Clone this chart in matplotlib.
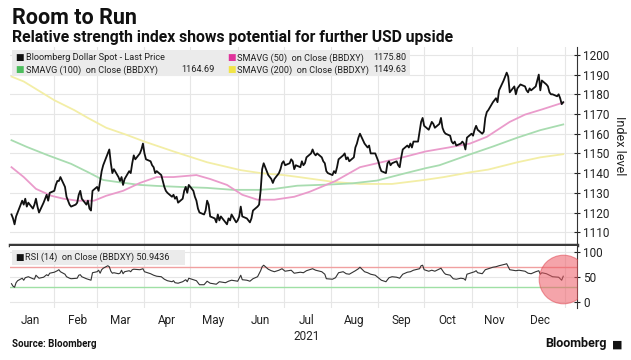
import matplotlib.dates as mdates
import matplotlib.pyplot as plt
import pandas as pd
from matplotlib.patches import Rectangle

plt.rcParams["font.family"] = ["Roboto", "DejaVu Sans"]

# Bloomberg Dollar Spot daily closes, one list per month (business days)
jan_close = [1119, 1117, 1114, 1118, 1120, 1126, 1124, 1127, 1123, 1125,
             1122, 1124, 1127, 1123, 1120, 1125, 1127, 1129, 1126, 1130]
feb_close = [1131, 1134, 1136, 1136, 1138, 1133, 1128, 1126, 1124, 1123,
             1124, 1125, 1129, 1131, 1127, 1124, 1126, 1122, 1121, 1131]
mar_close = [1133, 1131, 1136, 1141, 1144, 1150, 1152, 1145, 1140, 1142,
             1138, 1136, 1138, 1134, 1137, 1141, 1140, 1145, 1149, 1147,
             1150, 1152, 1155]
apr_close = [1150, 1147, 1146, 1144, 1143, 1140, 1141, 1139, 1136, 1133,
             1131, 1130, 1128, 1129, 1127, 1128, 1125, 1127, 1131, 1133,
             1130, 1134]
may_close = [1131, 1128, 1126, 1122, 1120, 1119, 1121, 1126, 1124, 1118,
             1117, 1115, 1119, 1116, 1118, 1115, 1114, 1117, 1116, 1119,
             1115]
jun_close = [1116, 1118, 1123, 1118, 1117, 1116, 1115, 1117, 1121, 1123,
             1124, 1131, 1142, 1145, 1139, 1138, 1137, 1135, 1137, 1140,
             1142, 1145]
jul_close = [1146, 1144, 1145, 1147, 1146, 1142, 1144, 1143, 1146, 1144,
             1145, 1148, 1150, 1152, 1150, 1149, 1150, 1148, 1146, 1145,
             1141, 1140]
aug_close = [1139, 1141, 1140, 1143, 1147, 1149, 1150, 1147, 1148, 1146,
             1148, 1153, 1155, 1158, 1160, 1155, 1154, 1153, 1154, 1150,
             1150, 1148]
sep_close = [1146, 1143, 1141, 1140, 1145, 1146, 1144, 1145, 1146, 1144,
             1143, 1148, 1152, 1154, 1153, 1155, 1153, 1156, 1156, 1161,
             1166, 1168]
oct_close = [1164, 1162, 1164, 1166, 1165, 1163, 1165, 1168, 1163, 1161,
             1160, 1159, 1156, 1155, 1156, 1154, 1155, 1156, 1155, 1152,
             1158]
nov_close = [1160, 1159, 1162, 1164, 1162, 1160, 1161, 1168, 1171, 1172,
             1176, 1177, 1178, 1176, 1182, 1187, 1189, 1191, 1189, 1181,
             1184, 1180]
dec_close = [1183, 1184, 1185, 1184, 1182, 1181, 1183, 1182, 1184, 1187,
             1190, 1182, 1187, 1185, 1184, 1181, 1180, 1180, 1179, 1180,
             1178, 1175, 1176]

# moving averages
sma50_dates = ["2021-01-04", "2021-01-12", "2021-01-20", "2021-01-30", "2021-02-07",
               "2021-02-16", "2021-02-27", "2021-03-07", "2021-03-18", "2021-03-29",
               "2021-04-09", "2021-04-20", "2021-05-05", "2021-05-14", "2021-05-25",
               "2021-06-04", "2021-06-14", "2021-06-25", "2021-07-08", "2021-07-18",
               "2021-08-04", "2021-08-20", "2021-09-03", "2021-09-17", "2021-10-02",
               "2021-10-17", "2021-10-31", "2021-11-11", "2021-11-26", "2021-12-06",
               "2021-12-17", "2021-12-31"]
sma50 = [1143, 1138, 1132, 1128.5, 1127, 1126, 1126, 1128.5, 1131, 1135,
         1138, 1138, 1139, 1137, 1134, 1129, 1126.5, 1126.5, 1128, 1130.5,
         1136, 1143, 1145.5, 1148, 1151, 1153, 1155, 1158.4, 1166, 1169.7,
         1172.3, 1175.8]

sma100_dates = ["2021-01-04", "2021-01-14", "2021-01-28", "2021-02-12", "2021-02-23",
                "2021-03-05", "2021-03-16", "2021-03-29", "2021-04-09", "2021-04-24",
                "2021-05-12", "2021-05-29", "2021-06-15", "2021-06-25", "2021-07-10",
                "2021-07-31", "2021-08-15", "2021-08-31", "2021-09-17", "2021-10-02",
                "2021-10-11", "2021-10-31", "2021-11-15", "2021-12-01", "2021-12-16",
                "2021-12-31"]
sma100 = [1156.7, 1153.3, 1149, 1144.7, 1140.5, 1136.5, 1135.3, 1134, 1133.5, 1133,
          1132.5, 1131.5, 1131.5, 1132, 1133.6, 1134.2, 1134.8, 1136.2, 1139.6, 1142.5,
          1144, 1149.5, 1153.5, 1158, 1161.8, 1164.7]

sma200_dates = ["2021-01-04", "2021-01-12", "2021-02-01", "2021-02-14", "2021-02-23",
                "2021-03-07", "2021-03-20", "2021-04-01", "2021-04-20", "2021-05-12",
                "2021-06-03", "2021-06-16", "2021-07-01", "2021-07-11", "2021-08-03",
                "2021-08-20", "2021-09-10", "2021-10-01", "2021-10-14", "2021-10-31",
                "2021-11-12", "2021-12-01", "2021-12-16", "2021-12-31"]
sma200 = [1189, 1186.5, 1177, 1172, 1168, 1163, 1159.5, 1156, 1151, 1145.5,
          1141.5, 1140, 1139, 1138, 1135.5, 1134.5, 1134.5, 1136.5, 1138, 1140.4,
          1141.8, 1145.5, 1148, 1149.6]

# RSI (14)
rsi_dates = ["2021-01-04", "2021-01-05", "2021-01-06", "2021-01-07", "2021-01-08",
             "2021-01-11", "2021-01-12", "2021-01-13", "2021-01-15", "2021-01-18",
             "2021-01-19", "2021-01-20", "2021-01-22", "2021-01-25", "2021-01-27",
             "2021-01-28", "2021-01-29", "2021-02-01", "2021-02-03", "2021-02-04",
             "2021-02-05", "2021-02-08", "2021-02-09", "2021-02-11", "2021-02-12",
             "2021-02-16", "2021-02-17", "2021-02-18", "2021-02-19", "2021-02-22",
             "2021-02-24", "2021-02-25", "2021-02-26", "2021-03-01", "2021-03-02",
             "2021-03-03", "2021-03-04", "2021-03-05", "2021-03-08", "2021-03-09",
             "2021-03-10", "2021-03-11", "2021-03-12", "2021-03-15", "2021-03-16",
             "2021-03-17", "2021-03-18", "2021-03-19", "2021-03-22", "2021-03-23",
             "2021-03-24", "2021-03-25", "2021-03-29", "2021-03-31", "2021-04-01",
             "2021-04-05", "2021-04-07", "2021-04-09", "2021-04-12", "2021-04-14",
             "2021-04-16", "2021-04-19", "2021-04-20", "2021-04-21", "2021-04-23",
             "2021-04-26", "2021-04-28", "2021-04-29", "2021-04-30", "2021-05-03",
             "2021-05-05", "2021-05-07", "2021-05-10", "2021-05-12", "2021-05-14",
             "2021-05-18", "2021-05-20", "2021-05-24", "2021-05-26", "2021-05-28",
             "2021-06-01", "2021-06-03", "2021-06-04", "2021-06-07", "2021-06-09",
             "2021-06-11", "2021-06-14", "2021-06-15", "2021-06-16", "2021-06-17",
             "2021-06-18", "2021-06-21", "2021-06-23", "2021-06-25", "2021-06-28",
             "2021-06-30", "2021-07-02", "2021-07-06", "2021-07-08", "2021-07-12",
             "2021-07-14", "2021-07-16", "2021-07-20", "2021-07-22", "2021-07-26",
             "2021-07-28", "2021-07-29", "2021-08-02", "2021-08-04", "2021-08-06",
             "2021-08-09", "2021-08-11", "2021-08-13", "2021-08-17", "2021-08-19",
             "2021-08-20", "2021-08-23", "2021-08-25", "2021-08-27", "2021-08-30",
             "2021-09-01", "2021-09-03", "2021-09-06", "2021-09-08", "2021-09-10",
             "2021-09-13", "2021-09-15", "2021-09-17", "2021-09-20", "2021-09-22",
             "2021-09-24", "2021-09-28", "2021-09-29", "2021-09-30", "2021-10-01",
             "2021-10-04", "2021-10-06", "2021-10-08", "2021-10-12", "2021-10-14",
             "2021-10-15", "2021-10-18", "2021-10-20", "2021-10-22", "2021-10-25",
             "2021-10-27", "2021-10-28", "2021-10-29", "2021-11-01", "2021-11-03",
             "2021-11-04", "2021-11-05", "2021-11-08", "2021-11-10", "2021-11-12",
             "2021-11-15", "2021-11-17", "2021-11-19", "2021-11-23", "2021-11-24",
             "2021-11-26", "2021-11-30", "2021-12-02", "2021-12-06", "2021-12-08",
             "2021-12-10", "2021-12-13", "2021-12-15", "2021-12-16", "2021-12-17",
             "2021-12-20", "2021-12-22", "2021-12-24", "2021-12-28", "2021-12-29",
             "2021-12-30", "2021-12-31"]
rsi = [36, 31, 29, 38, 42, 47, 43, 48, 50, 46,
       45, 53, 47, 49, 54, 52, 57, 59, 62, 64,
       60, 55, 50, 47, 46, 47, 53, 54, 50, 46,
       44, 43, 58, 60, 63, 57, 64, 67, 72, 70,
       61, 57, 58, 56, 57, 63, 56, 60, 62, 60,
       64, 65, 64, 66, 60, 56, 53, 51, 50, 45,
       42, 40, 42, 38, 37, 40, 44, 40, 47, 44,
       42, 34, 34, 41, 37, 35, 40, 38, 41, 43,
       41, 53, 44, 43, 41, 46, 50, 56, 62, 70,
       73, 65, 62, 60, 63, 66, 61, 63, 57, 59,
       58, 62, 66, 63, 60, 55, 46, 45, 48, 58,
       60, 56, 55, 62, 66, 69, 60, 58, 55, 53,
       48, 43, 40, 48, 50, 49, 47, 55, 59, 60,
       63, 66, 72, 73, 64, 61, 63, 61, 67, 58,
       55, 53, 46, 45, 47, 46, 43, 55, 58, 60,
       62, 58, 56, 64, 66, 69, 70, 72, 75, 76,
       64, 62, 63, 61, 57, 56, 60, 62, 55, 58,
       56, 53, 50, 49, 46, 43, 51]

month_labels = ["Jan", "Feb", "Mar", "Apr", "May", "Jun", "Jul\n2021",
                "Aug", "Sep", "Oct", "Nov", "Dec"]
price_ticks = [1110, 1120, 1130, 1140, 1150, 1160, 1170, 1180, 1190, 1200]
rsi_ticks = [0, 50, 100]
rsi_upper, rsi_lower = 70, 30
highlight_level = 45

close = (jan_close + feb_close + mar_close + apr_close + may_close + jun_close
         + jul_close + aug_close + sep_close + oct_close + nov_close + dec_close)
dates = pd.bdate_range("2021-01-04", "2021-12-31")
assert len(dates) == len(close)

TEXT = "#222222"
GRID = "#e6e6e6"
LEG_SIZE = 6.6

fig = plt.figure(figsize=(6.31, 3.60), dpi=100)
ax = fig.add_axes([0.0158, 0.3194, 0.8986, 0.55])
ax_rsi = fig.add_axes([0.0158, 0.1444, 0.8986, 0.1722], sharex=ax)

x_start, x_end = pd.Timestamp("2021-01-03"), pd.Timestamp("2022-01-09")
month_starts = pd.date_range("2021-02-01", "2022-01-01", freq="MS")
mid_months = pd.date_range("2021-01-01", "2021-12-01", freq="MS") + pd.Timedelta(days=15)

# main panel
ax.plot(pd.to_datetime(sma200_dates), sma200, color="#f3eea6", lw=1.3, zorder=2)
ax.plot(pd.to_datetime(sma100_dates), sma100, color="#a8dcb0", lw=1.3, zorder=2)
ax.plot(pd.to_datetime(sma50_dates), sma50, color="#ea9bcb", lw=1.3, zorder=3)
ax.plot(dates, close, color="#111111", lw=1.3, zorder=4)

ax.set_xlim(x_start, x_end)
ax.set_ylim(1103.5, 1204)
ax.yaxis.tick_right()
ax.set_yticks(price_ticks)
ax.tick_params(axis="y", direction="inout", length=5, width=0.8, labelsize=8.5,
               colors=TEXT, pad=2)
ax.set_ylabel("Index level", rotation=270, labelpad=12, fontsize=9, color=TEXT)
ax.yaxis.set_label_position("right")
ax.tick_params(axis="x", length=0, labelbottom=False)
ax.set_xticks(month_starts, minor=True)
ax.set_xticks([])
ax.grid(which="minor", axis="x", color=GRID, lw=0.8)
ax.grid(which="major", axis="y", color=GRID, lw=0.8)
for side in ["top", "left"]:
    ax.spines[side].set_visible(False)
ax.spines["right"].set_color("#333333")
ax.spines["right"].set_linewidth(0.8)
ax.spines["bottom"].set_color("#3a3a3a")
ax.spines["bottom"].set_linewidth(2.5)

# legend box of the main panel
ax.add_patch(Rectangle((0.003, 0.855), 0.703, 0.13, transform=ax.transAxes,
                       facecolor="#ebebeb", edgecolor="none", zorder=5))
legend_rows = [
    (0.010, 0.945, "#111111", "Bloomberg Dollar Spot - Last Price", ""),
    (0.383, 0.945, "#e0349c", "SMAVG (50)  on Close (BBDXY)", "1175.80"),
    (0.010, 0.885, "#4cbd5d", "SMAVG (100)  on Close (BBDXY)", "1164.69"),
    (0.383, 0.885, "#f1e447", "SMAVG (200)  on Close (BBDXY)", "1149.63"),
]
for lx, ly, col, label, val in legend_rows:
    ax.text(lx, ly, "■", color=col, fontsize=LEG_SIZE, va="center",
            transform=ax.transAxes, zorder=6)
    ax.text(lx + 0.018, ly, label, color=TEXT, fontsize=LEG_SIZE, va="center",
            transform=ax.transAxes, zorder=6)
    if val:
        vx = 0.36 if lx < 0.3 else 0.70
        ax.text(vx, ly, val, color=TEXT, fontsize=LEG_SIZE, va="center", ha="right",
                transform=ax.transAxes, zorder=6)

# RSI panel
ax_rsi.axhline(rsi_upper, color="#f0a0a0", lw=1.0, zorder=2)
ax_rsi.axhline(rsi_lower, color="#9fe0a5", lw=1.0, zorder=2)
ax_rsi.plot(pd.to_datetime(rsi_dates), rsi, color="#333333", lw=0.8, zorder=3)
ax_rsi.plot(pd.to_datetime(rsi_dates[-1]), highlight_level, marker="o", ms=35,
            color="#ee5a64", alpha=0.55, mec="#e04a55", mew=0.8, zorder=4)
ax_rsi.set_ylim(-12.6, 111.4)
ax_rsi.yaxis.tick_right()
ax_rsi.set_yticks(rsi_ticks)
ax_rsi.tick_params(axis="y", direction="inout", length=5, width=0.8, labelsize=8.5,
                   colors=TEXT, pad=2)
ax_rsi.set_xticks(month_starts, minor=True)
ax_rsi.set_xticks(mid_months)
ax_rsi.set_xticklabels(month_labels, fontsize=8.5, color=TEXT, linespacing=1.3)
ax_rsi.tick_params(axis="x", which="both", length=0, pad=4)
ax_rsi.grid(which="minor", axis="x", color=GRID, lw=0.8)
ax_rsi.grid(which="major", axis="y", color=GRID, lw=0.8)
ax_rsi.set_xlim(x_start, x_end)
for side in ["top", "left", "bottom"]:
    ax_rsi.spines[side].set_visible(False)
ax_rsi.spines["right"].set_color("#333333")
ax_rsi.spines["right"].set_linewidth(0.8)

ax_rsi.add_patch(Rectangle((0.003, 0.70), 0.305, 0.23, transform=ax_rsi.transAxes,
                           facecolor="#ebebeb", edgecolor="none", zorder=5))
ax_rsi.text(0.010, 0.815, "■", color="#111111", fontsize=LEG_SIZE, va="center",
            transform=ax_rsi.transAxes, zorder=6)
ax_rsi.text(0.027, 0.815, "RSI (14)  on Close (BBDXY) 50.9436", color=TEXT,
            fontsize=LEG_SIZE, va="center", transform=ax_rsi.transAxes, zorder=6)

# titles and footer
fig.text(0.019, 0.933, "Room to Run", fontsize=15.5, fontweight="bold", color="#111111")
fig.text(0.019, 0.883, "Relative strength index shows potential for further USD upside",
         fontsize=11.3, fontweight="bold", color="#111111")
fig.text(0.019, 0.035, "Source: Bloomberg", fontsize=7, fontweight="bold", color="#111111")
fig.text(0.962, 0.035, "Bloomberg", fontsize=9, fontweight="bold", color="#111111",
         ha="right")
fig.text(0.970, 0.035, "■", fontsize=8, color="#111111")

fig.savefig("out.png", dpi=100)
